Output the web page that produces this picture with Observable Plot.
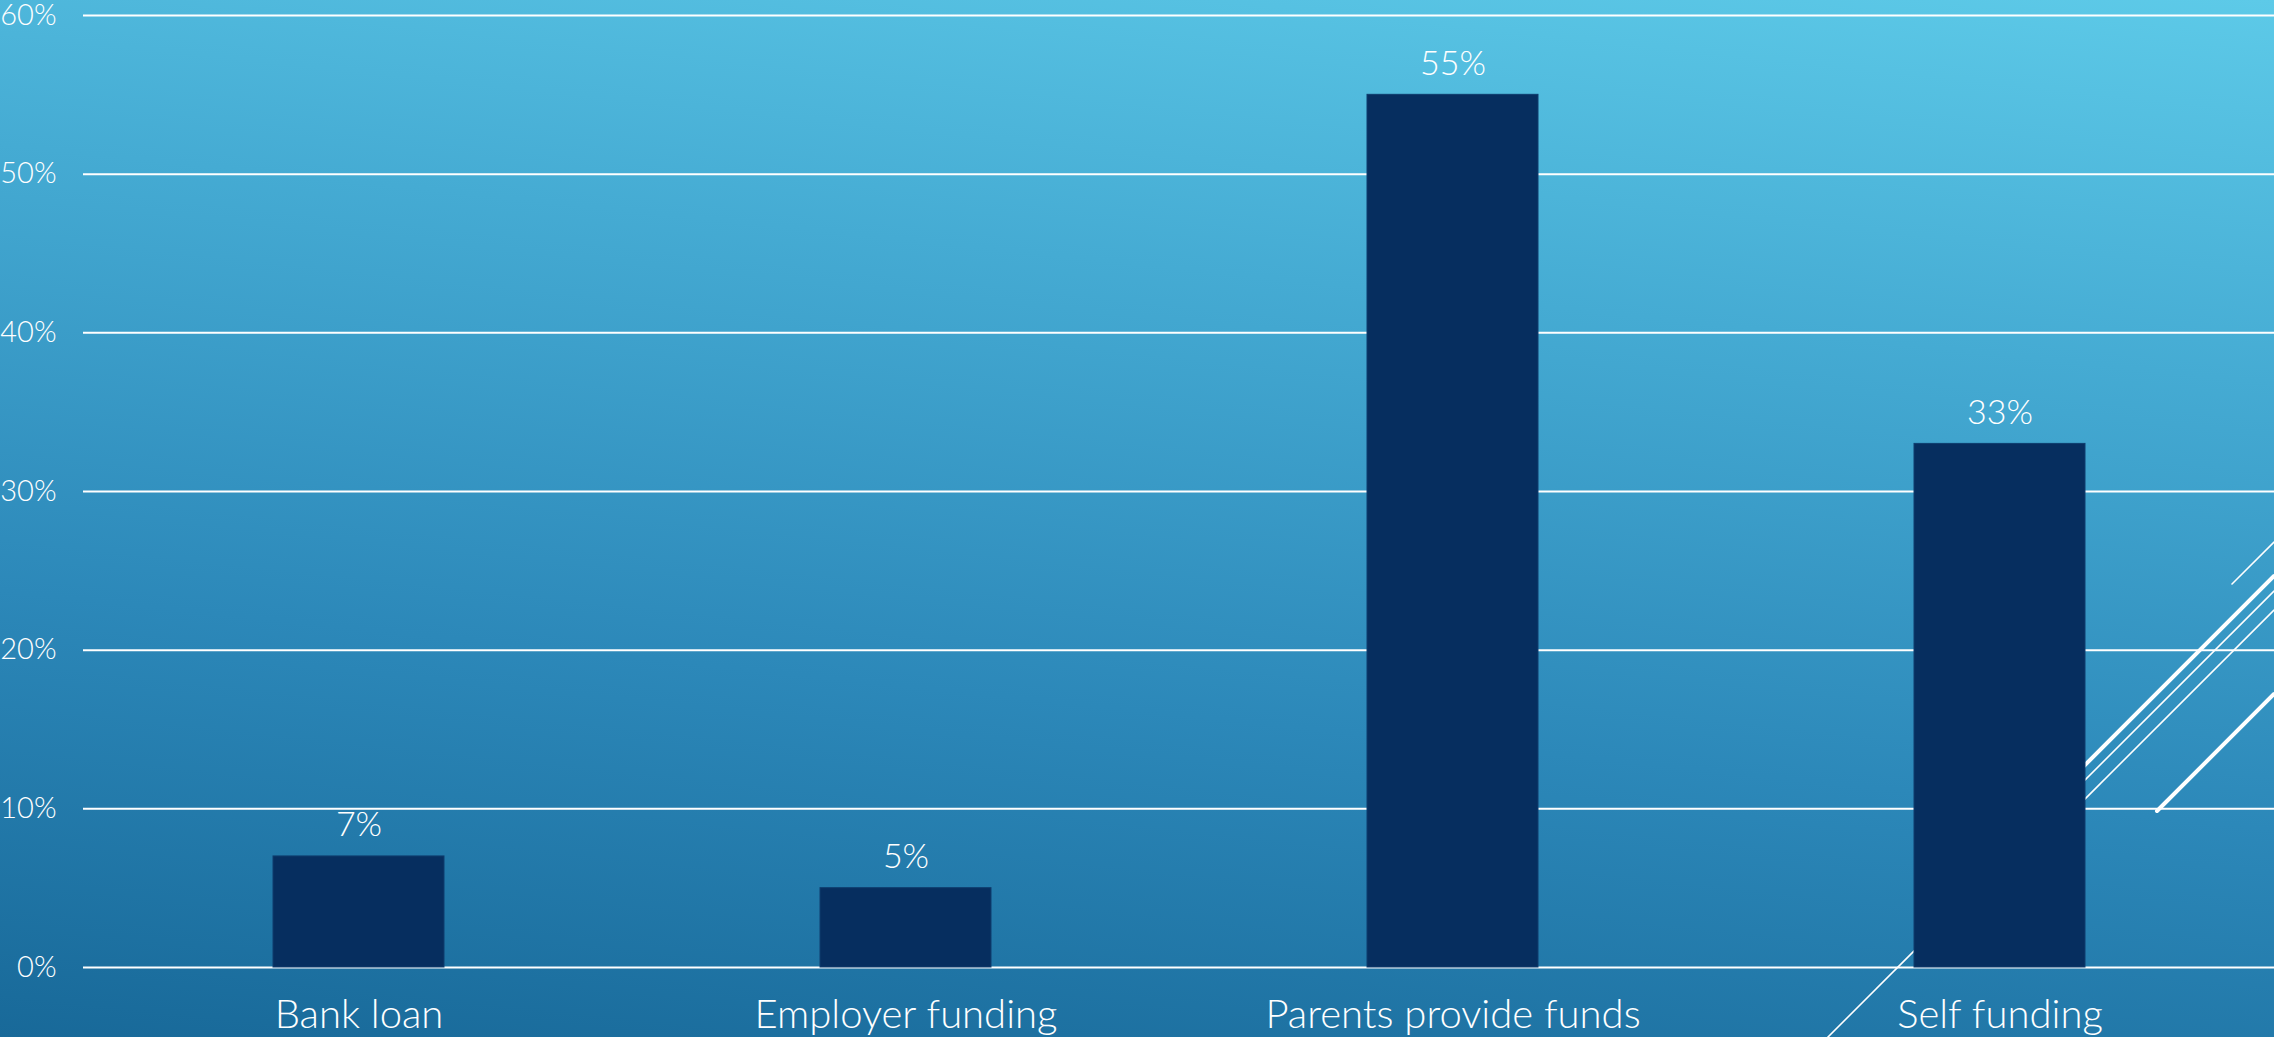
<!DOCTYPE html>
<html>
<head>
<meta charset="utf-8">
<script src="https://cdn.jsdelivr.net/npm/d3@7"></script>
<script src="https://cdn.jsdelivr.net/npm/@observablehq/plot@0.6"></script>
<style>
  html, body { margin: 0; padding: 0; }
  body { width: 2274px; height: 1037px; overflow: hidden; }
  #wrap {
    position: relative; width: 2274px; height: 1037px;
    background: linear-gradient(6deg, #186999 0%, #2C88B9 35%, #45ABD3 70%, #5DCAE8 100%);
    font-family: Lato, "Open Sans", sans-serif;
  }
  #deco { position: absolute; left: 0; top: 0; }
  #chart { position: absolute; left: 0; top: 0; }
  #chart svg { background: transparent; }
</style>
</head>
<body>
<div id="wrap">
  <svg id="deco" width="2274" height="1037"></svg>
  <div id="chart"></div>
</div>
<script>
// ---- data ----
const categories = ["Bank loan", "Employer funding", "Parents provide funds", "Self funding"];
const shares = [7, 5, 55, 33];
const shareLabels = ["7%", "5%", "55%", "33%"];
const yTicks = [0, 10, 20, 30, 40, 50, 60];

const rows = categories.map((c, i) => ({category: c, share: shares[i], label: shareLabels[i]}));

// ---- decorative background strokes (theme ornament, not data) ----
const deco = [
  {x1: 1826, y1: 1039, x2: 2274, y2: 591, w: 1.6},
  {x1: 2000, y1: 850, x2: 2274, y2: 576, w: 4},
  {x1: 2000, y1: 884, x2: 2274, y2: 610, w: 1.6},
  {x1: 2157, y1: 811, x2: 2274, y2: 694, w: 4},
  {x1: 2232, y1: 584, x2: 2274, y2: 542, w: 1.6}
];
const decoSvg = d3.select("#deco");
decoSvg.selectAll("line").data(deco).join("line")
  .attr("x1", d => d.x1).attr("y1", d => d.y1)
  .attr("x2", d => d.x2).attr("y2", d => d.y2)
  .attr("stroke", "white").attr("stroke-width", d => d.w)
  .attr("stroke-linecap", "round");

// ---- chart ----
const chart = Plot.plot({
  width: 2274,
  height: 1037,
  marginLeft: 83,
  marginRight: 0,
  marginTop: 15,
  marginBottom: 70,
  style: {background: "transparent", color: "white", fontFamily: "Lato, 'Open Sans', sans-serif"},
  x: {domain: categories, paddingInner: 0.688, paddingOuter: 0.344, label: null},
  y: {domain: [0, 60], label: null},
  marks: [
    Plot.ruleY(yTicks, {stroke: "white", strokeWidth: 2}),
    Plot.barY(rows, {x: "category", y: "share", fill: "#062E5F", stroke: "#0E3D6E", strokeWidth: 1}),
    Plot.text(rows, {x: "category", y: "share", text: "label", fill: "white", fontSize: 34, fontWeight: 300, textAnchor: "middle", lineAnchor: "bottom", dy: -20}),
    Plot.axisY({ticks: yTicks, tickFormat: d => d + "%", tickSize: 0, tickPadding: 27, fontSize: 29, fontWeight: 300, fill: "white", label: null}),
    Plot.axisX({tickSize: 0, tickPadding: 32, fontSize: 40, fontWeight: 300, fill: "white", label: null})
  ]
});
document.getElementById("chart").appendChild(chart);
</script>
</body>
</html>
